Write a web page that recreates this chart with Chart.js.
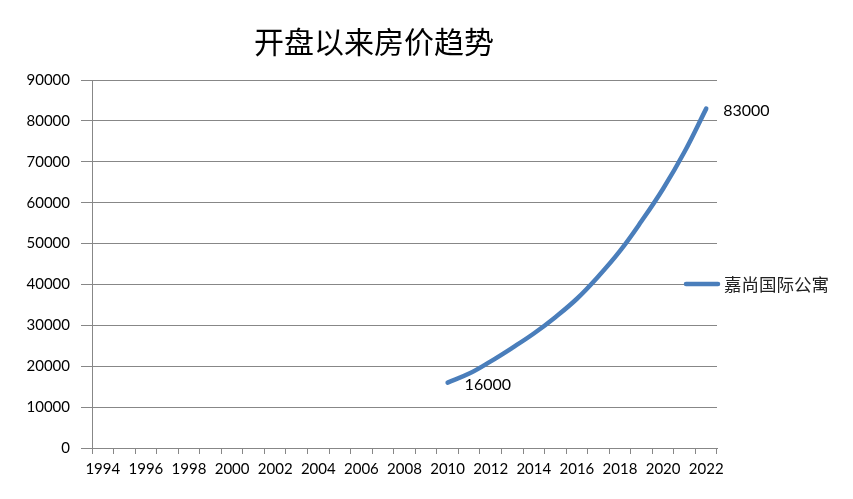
<!DOCTYPE html>
<html>
<head>
<meta charset="utf-8">
<script src="https://cdn.jsdelivr.net/npm/chart.js@4/dist/chart.umd.min.js"></script>
<style>
  html, body { margin: 0; padding: 0; background: #fff; }
  #wrap { width: 853px; height: 499px; }
</style>
</head>
<body>
<div id="wrap"><canvas id="grafico" width="853" height="499"></canvas></div>
<script>
// Dados
const anos = ['1994', '1995', '1996', '1997', '1998', '1999', '2000', '2001', '2002', '2003',
  '2004', '2005', '2006', '2007', '2008', '2009', '2010', '2011', '2012', '2013',
  '2014', '2015', '2016', '2017', '2018', '2019', '2020', '2021', '2022'];
const precos = [null, null, null, null, null, null, null, null, null, null,
  null, null, null, null, null, null, 16000, 18200, 21200, 24500,
  28000, 32000, 36500, 42000, 48200, 55500, 63400, 72500, 83000];
const titulo = '开盘以来房价趋势';
const serie = '嘉尚国际公寓';

const AZUL = '#4a7ebb';
const CINZA = '#878787';
const FONTE_NUM = 'Lato, "Open Sans", sans-serif';
const FONTE_CJK = '"Noto Sans CJK SC", sans-serif';

// Título, legenda e rótulos do primeiro e último ponto
const extras = {
  id: 'extras',
  afterDraw(chart) {
    const ctx = chart.ctx;
    ctx.save();
    ctx.fillStyle = '#000';
    ctx.font = '30px ' + FONTE_CJK;
    ctx.textAlign = 'center';
    ctx.textBaseline = 'middle';
    ctx.fillText(titulo, 374, 42);

    // rótulos de dados
    const pts = chart.getDatasetMeta(0).data;
    const dados = chart.data.datasets[0].data;
    const idx = [];
    dados.forEach((v, i) => { if (v !== null) idx.push(i); });
    const primeiro = idx[0], ultimo = idx[idx.length - 1];
    ctx.font = '16px ' + FONTE_NUM;
    ctx.textAlign = 'left';
    [primeiro, ultimo].forEach(i => {
      const p = pts[i];
      ctx.fillText(String(dados[i]), p.x + 17, p.y + 2);
    });

    // legenda
    const ly = 284;
    ctx.strokeStyle = AZUL;
    ctx.lineWidth = 4.5;
    ctx.lineCap = 'round';
    ctx.beginPath();
    ctx.moveTo(686, ly);
    ctx.lineTo(718, ly);
    ctx.stroke();
    ctx.fillStyle = '#222';
    ctx.font = '17.5px ' + FONTE_CJK;
    ctx.textBaseline = 'middle';
    ctx.fillText(serie, 724, ly);
    ctx.restore();
  }
};

new Chart(document.getElementById('grafico').getContext('2d'), {
  type: 'line',
  data: {
    labels: anos,
    datasets: [{
      label: serie,
      data: precos,
      borderColor: AZUL,
      backgroundColor: AZUL,
      borderWidth: 4.5,
      borderCapStyle: 'round',
      pointRadius: 0,
      pointHoverRadius: 0,
      tension: 0.4,
      fill: false
    }]
  },
  options: {
    responsive: false,
    animation: false,
    devicePixelRatio: 1,
    layout: { padding: { left: 0, right: 136, top: 80, bottom: 0 } },
    plugins: {
      legend: { display: false },
      title: { display: false },
      tooltip: { enabled: false }
    },
    scales: {
      x: {
        offset: true,
        grid: {
          offset: true,
          drawOnChartArea: false,
          color: CINZA,
          tickLength: 6
        },
        border: { color: CINZA, width: 1 },
        ticks: {
          autoSkip: false,
          maxRotation: 0,
          padding: 6,
          color: '#000',
          font: { family: FONTE_NUM, size: 15 },
          callback: function (v, i) { return i % 2 === 0 ? this.getLabelForValue(v) : ''; }
        },
        afterFit(scale) { scale.height = 51; }
      },
      y: {
        min: 0,
        max: 90000,
        grid: { color: CINZA, tickLength: 11 },
        border: { color: CINZA, width: 1 },
        ticks: {
          stepSize: 10000,
          padding: 11,
          color: '#000',
          font: { family: FONTE_NUM, size: 15 },
          callback: v => String(v)
        },
        afterFit(scale) { scale.width = 92; }
      }
    }
  },
  plugins: [extras]
});
</script>
</body>
</html>
